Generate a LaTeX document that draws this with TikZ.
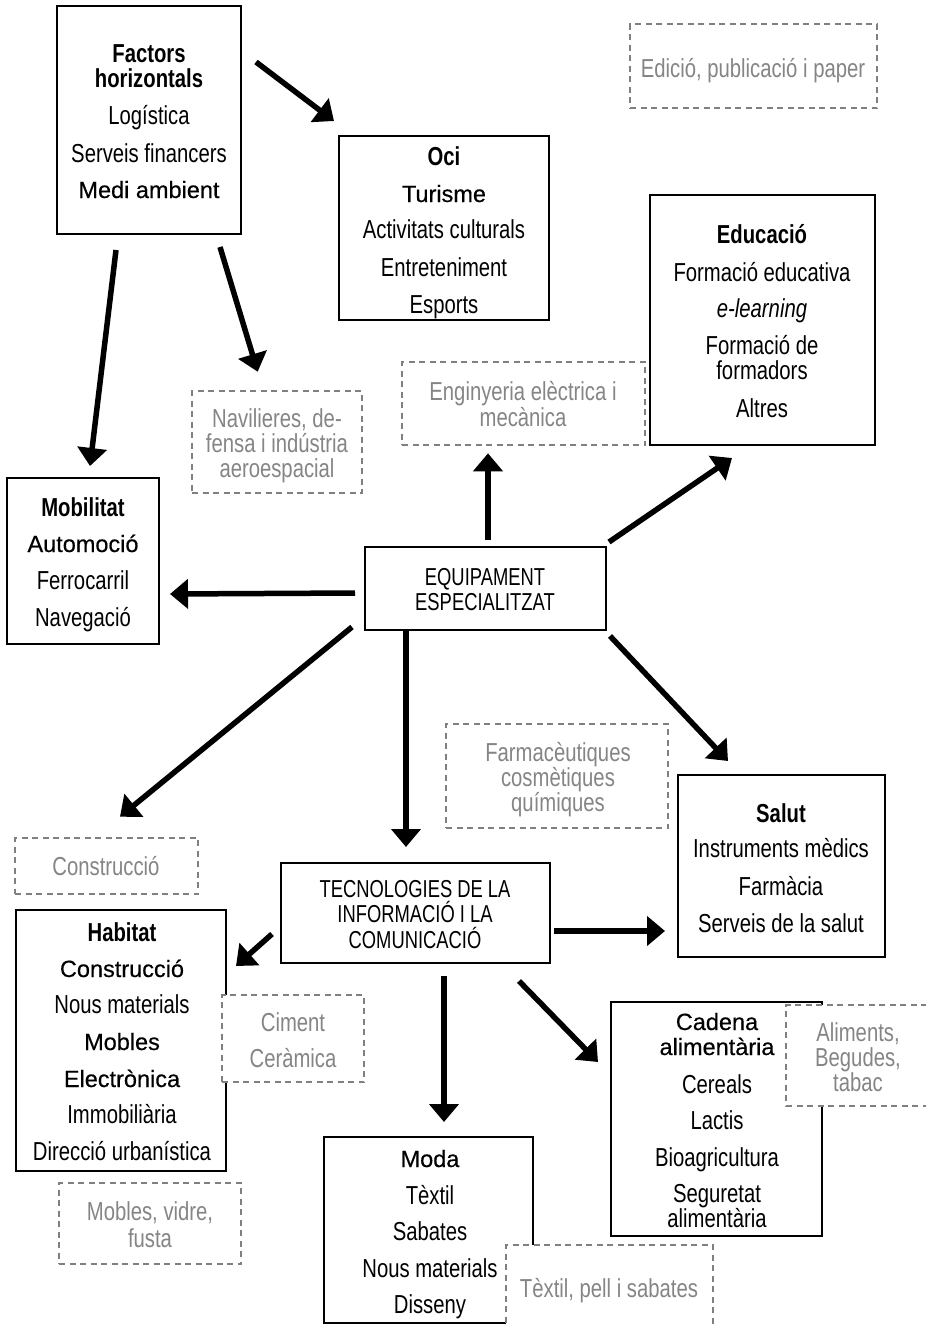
\documentclass[tikz,border=0pt]{standalone}
\usepackage{fontspec}
\usetikzlibrary{arrows.meta,calc}
\newfontfamily\cndfam{Liberation Sans}[FakeStretch=0.78]
\newfontfamily\capsfam{Liberation Sans}[FakeStretch=0.75]
\newfontfamily\widefam{Liberation Sans}[FakeBold=0.4]
\newcommand\cndft{\cndfam\fontsize{26}{25}\selectfont}
\newcommand\wideft{\widefam\fontsize{23.5}{25}\selectfont}
\newcommand\capsft{\capsfam\fontsize{24.5}{25.5}\selectfont}
\definecolor{dgray}{RGB}{128,128,128}
\definecolor{tgray}{RGB}{133,133,133}
\begin{document}
\begin{tikzpicture}[x=1pt,y=1pt,
  sbox/.style={draw=black,line width=2pt,fill=white,inner sep=0pt},
  dbox/.style={draw=dgray,line width=2.6pt,dash pattern=on 6pt off 4.5pt,fill=white,inner sep=0pt},
  txt/.style={anchor=base,inner sep=0pt,align=flush center,font=\cndft,text width=#1},
  gtxt/.style={txt=#1,text=tgray},
  arr/.style={line width=5.5pt,-{Triangle[length=18pt,width=29pt]}},
]
\useasboundingbox (0,0) rectangle (926,-1326);
\clip (0,0) rectangle (926,-1326);

% ---------- solid boxes ----------
\node[sbox,minimum width=184pt,minimum height=228pt] (fact) at (149,-120) {};
\node[txt=180pt] (fact-t) at (149,-62) {{\bfseries Factors}\\{\bfseries horizontals}\\[12pt]Logística\\[13pt]Serveis financers\\[11pt]{\wideft Medi ambient}};

\node[sbox,minimum width=210pt,minimum height=184pt] (oci) at (444,-228) {};
\node[txt=206pt] (oci-t) at (444,-165) {{\bfseries Oci}\\[12pt]{\wideft Turisme}\\[11pt]Activitats culturals\\[13pt]Entreteniment\\[12pt]Esports};

\node[sbox,minimum width=225pt,minimum height=250pt] (edu) at (762.5,-320) {};
\node[txt=221pt] (edu-t) at (762,-243) {{\bfseries Educació}\\[13pt]Formació educativa\\[11pt]{\itshape e-learning}\\[12pt]Formació de\\formadors\\[13pt]Altres};

\node[sbox,minimum width=152pt,minimum height=166pt] (mob) at (83,-561) {};
\node[txt=148pt] (mob-t) at (83,-516) {{\bfseries Mobilitat}\\[11pt]{\wideft Automoció}\\[12pt]Ferrocarril\\[12pt]Navegació};

\node[sbox,minimum width=241pt,minimum height=83pt] (equip) at (485.5,-588.5) {};
\node[txt=237pt,font=\capsft] (equip-t) at (485,-585) {EQUIPAMENT\\ESPECIALITZAT};

\node[sbox,minimum width=207pt,minimum height=182pt] (salut) at (781.5,-866) {};
\node[txt=203pt] (salut-t) at (781,-822) {{\bfseries Salut}\\[10pt]Instruments mèdics\\[13pt]Farmàcia\\[12pt]Serveis de la salut};

\node[sbox,minimum width=269pt,minimum height=100pt] (tec) at (415.5,-913) {};
\node[txt=265pt,font=\capsft] (tec-t) at (415,-897) {TECNOLOGIES DE LA\\INFORMACIÓ I LA\\COMUNICACIÓ};

\node[sbox,minimum width=210pt,minimum height=261pt] (hab) at (121,-1040.5) {};
\node[txt=206pt] (hab-t) at (122,-941) {{\bfseries Habitat}\\[11pt]{\wideft Construcció}\\[11pt]Nous materials\\[12pt]{\wideft Mobles}\\[12pt]{\wideft Electrònica}\\[11pt]Immobiliària\\[12pt]Direcció urbanística};

\node[sbox,minimum width=209pt,minimum height=186pt] (moda) at (428.5,-1230) {};
\node[txt=205pt] (moda-t) at (430,-1167) {{\wideft Moda}\\[12pt]Tèxtil\\[11pt]Sabates\\[12pt]Nous materials\\[11pt]Disseny};

\node[sbox,minimum width=211pt,minimum height=234pt] (cad) at (716.5,-1119) {};
\node[txt=207pt] (cad-t) at (717,-1030) {{\wideft Cadena}\\{\wideft alimentària}\\[13pt]Cereals\\[11pt]Lactis\\[12pt]Bioagricultura\\[11pt]Seguretat\\alimentària};

% ---------- dashed boxes ----------
\node[dbox,minimum width=247pt,minimum height=84pt] (edic) at (753.5,-66) {};
\node[gtxt=243pt] (edic-t) at (753,-77) {Edició, publicació i paper};

\node[dbox,minimum width=243pt,minimum height=83pt] (engi) at (523.5,-403.5) {};
\node[gtxt=239pt] (engi-t) at (523,-400) {Enginyeria elèctrica i\\[1pt]mecànica};

\node[dbox,minimum width=170pt,minimum height=102pt] (navi) at (277,-442) {};
\node[gtxt=166pt] (navi-t) at (277,-427) {Navilieres, de-\\fensa i indústria\\aeroespacial};

\node[dbox,minimum width=222pt,minimum height=104pt] (farma) at (557,-776) {};
\node[gtxt=218pt] (farma-t) at (558,-761) {Farmacèutiques\\cosmètiques\\químiques};

\node[dbox,minimum width=183pt,minimum height=56pt] (cons) at (106.5,-866) {};
\node[gtxt=179pt] (cons-t) at (106,-875) {Construcció};

\node[dbox,minimum width=142pt,minimum height=87pt] (cim) at (293,-1038.5) {};
\node[gtxt=138pt] (cim-t) at (293,-1031) {Ciment\\[11pt]Ceràmica};

\node[dbox,minimum width=182pt,minimum height=81pt] (mobv) at (150,-1223.5) {};
\node[gtxt=178pt] (mobv-t) at (150,-1220) {Mobles, vidre,\\[2pt]fusta};

\node[dbox,minimum width=146pt,minimum height=101pt] (alim) at (859,-1055.5) {};
\node[gtxt=142pt] (alim-t) at (858,-1041) {Aliments,\\Begudes,\\tabac};

\node[dbox,minimum width=207pt,minimum height=92pt] (texl) at (609.5,-1291) {};
\node[gtxt=203pt] (texl-t) at (609,-1297) {Tèxtil, pell i sabates};

% ---------- arrows ----------
\draw[arr] ($(fact.north east)+(14,-57)$) -- ($(oci.north west)+(-4,14)$);
\draw[arr] ($(fact.south west)+(60,-15)$) -- ($(mob.north west)+(84,11)$);
\draw[arr] ($(fact.south east)+(-22,-12)$) -- ($(navi.north west)+(67,18)$);
\draw[arr] ($(equip.west)+(-9,-4.5)$) -- ($(mob.east)+(10,-33)$);
\draw[arr] ($(equip.north)+(2.5,6)$) -- ($(engi.south)+(-35.5,-7)$);
\draw[arr] ($(equip.north east)+(2,4)$) -- ($(edu.south)+(-30.5,-12)$);
\draw[arr] ($(equip.south west)+(-12,4)$) -- ($(cons.north)+(13.5,20)$);
\draw[arr] ($(equip.south)+(-79.5,0)$) -- ($(tec.north)+(-9.5,15)$);
\draw[arr] ($(equip.south east)+(3,-5)$) -- ($(salut.north)+(-53.5,13)$);
\draw[arr] ($(tec.west)+(-8,-21)$) -- ($(hab.north east)+(9,-57)$);
\draw[arr] ($(tec.east)+(3,-18)$) -- ($(salut.west)+(-12,-65)$);
\draw[arr] ($(tec.south)+(28.5,-12)$) -- ($(moda.north)+(15.5,14)$);
\draw[arr] ($(tec.south east)+(-32,-17)$) -- ($(cad.west)+(-12,57)$);
\end{tikzpicture}
\end{document}
